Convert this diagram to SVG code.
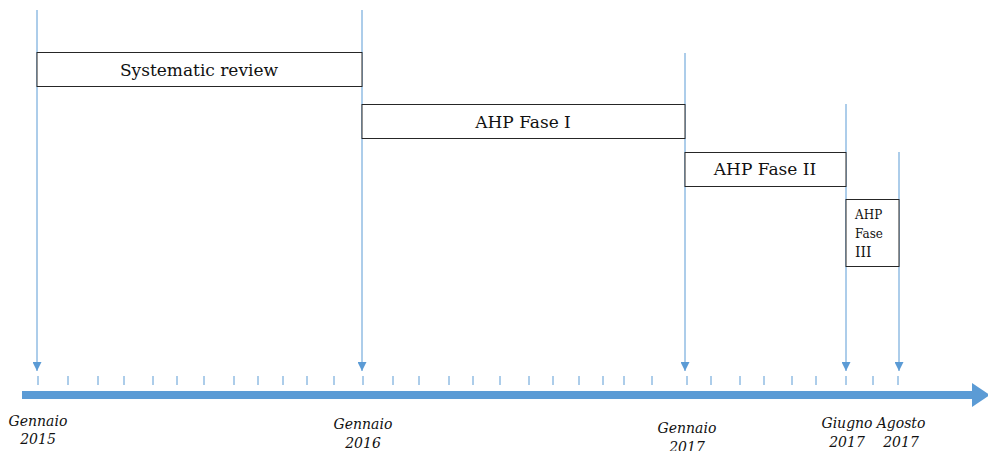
<svg xmlns="http://www.w3.org/2000/svg" width="988" height="451" viewBox="0 0 988 451">
  <style>
    .box { fill: #ffffff; stroke: #262626; stroke-width: 1; }
    .lbl { font-family: 'DejaVu Serif', 'Liberation Serif', serif; fill: #111111; }
    .date { font-family: 'DejaVu Serif', 'Liberation Serif', serif; font-style: italic; font-size: 14px; fill: #111111; text-anchor: middle; }
    .guide { stroke: #5b9bd5; stroke-width: 1; fill: none; marker-end: url(#tip); }
    .tick { stroke: #5b9bd5; stroke-width: 1; }
  </style>
  <defs>
    <marker id="tip" viewBox="0 0 10 10" refX="10" refY="5" markerWidth="9" markerHeight="9" markerUnits="userSpaceOnUse" orient="auto">
      <path d="M0,0 L10,5 L0,10 z" fill="#5b9bd5"/>
    </marker>
  </defs>

  <rect width="988" height="451" fill="#ffffff"/>

  <!-- time axis -->
  <g id="axis">
    <rect x="22" y="391" width="952" height="8" fill="#5b9bd5"/>
    <path d="M972,383 L990,395 L972,407 z" fill="#5b9bd5"/>
    <g class="tick">
      <line x1="38" y1="376" x2="38" y2="385"/>
      <line x1="68" y1="376" x2="68" y2="385"/>
      <line x1="98" y1="376" x2="98" y2="385"/>
      <line x1="124" y1="376" x2="124" y2="385"/>
      <line x1="153" y1="376" x2="153" y2="385"/>
      <line x1="177" y1="376" x2="177" y2="385"/>
      <line x1="204" y1="376" x2="204" y2="385"/>
      <line x1="234" y1="376" x2="234" y2="385"/>
      <line x1="258" y1="376" x2="258" y2="385"/>
      <line x1="283" y1="376" x2="283" y2="385"/>
      <line x1="307" y1="376" x2="307" y2="385"/>
      <line x1="334" y1="376" x2="334" y2="385"/>
      <line x1="363" y1="376" x2="363" y2="385"/>
      <line x1="393" y1="376" x2="393" y2="385"/>
      <line x1="419" y1="376" x2="419" y2="385"/>
      <line x1="449" y1="376" x2="449" y2="385"/>
      <line x1="473" y1="376" x2="473" y2="385"/>
      <line x1="500" y1="376" x2="500" y2="385"/>
      <line x1="529" y1="376" x2="529" y2="385"/>
      <line x1="553" y1="376" x2="553" y2="385"/>
      <line x1="579" y1="376" x2="579" y2="385"/>
      <line x1="603" y1="376" x2="603" y2="385"/>
      <line x1="624" y1="376" x2="624" y2="385"/>
      <line x1="652" y1="376" x2="652" y2="385"/>
      <line x1="687" y1="376" x2="687" y2="385"/>
      <line x1="711" y1="376" x2="711" y2="385"/>
      <line x1="740" y1="376" x2="740" y2="385"/>
      <line x1="764" y1="376" x2="764" y2="385"/>
      <line x1="792" y1="376" x2="792" y2="385"/>
      <line x1="816" y1="376" x2="816" y2="385"/>
      <line x1="846" y1="376" x2="846" y2="385"/>
      <line x1="873" y1="376" x2="873" y2="385"/>
      <line x1="898" y1="376" x2="898" y2="385"/>
    </g>
  </g>

  <!-- connectors: guide lines down to the axis -->
  <g id="connectors">
    <line class="guide" x1="37" y1="10" x2="37" y2="371"/>
    <line class="guide" x1="362" y1="10" x2="362" y2="371"/>
    <line class="guide" x1="685" y1="53" x2="685" y2="371"/>
    <line class="guide" x1="846" y1="104" x2="846" y2="371"/>
    <line class="guide" x1="899" y1="152" x2="899" y2="371"/>
  </g>

  <!-- phases -->
  <g id="systematic-review">
    <rect class="box" x="37" y="52.5" width="325" height="34"/>
    <text class="lbl" x="199" y="76" font-size="17" text-anchor="middle">Systematic review</text>
  </g>
  <g id="ahp-fase-1">
    <rect class="box" x="362" y="104.5" width="323" height="34"/>
    <text class="lbl" x="523" y="128" font-size="17" text-anchor="middle">AHP Fase I</text>
  </g>
  <g id="ahp-fase-2">
    <rect class="box" x="685" y="152.5" width="161" height="34"/>
    <text class="lbl" x="765" y="175" font-size="17" text-anchor="middle">AHP Fase II</text>
  </g>
  <g id="ahp-fase-3">
    <rect class="box" x="846" y="199.5" width="53" height="67"/>
    <text class="lbl" x="855" y="219" font-size="12">AHP</text>
    <text class="lbl" x="855" y="238" font-size="12">Fase</text>
    <text class="lbl" x="855" y="257" font-size="14">III</text>
  </g>

  <!-- dates -->
  <g id="dates">
    <text class="date" x="38" y="426">Gennaio</text>
    <text class="date" x="38" y="444">2015</text>
    <text class="date" x="363" y="429">Gennaio</text>
    <text class="date" x="363" y="448">2016</text>
    <text class="date" x="687" y="433">Gennaio</text>
    <text class="date" x="687" y="452">2017</text>
    <text class="date" x="847" y="428">Giugno</text>
    <text class="date" x="847" y="447">2017</text>
    <text class="date" x="901" y="428">Agosto</text>
    <text class="date" x="901" y="447">2017</text>
  </g>
</svg>
